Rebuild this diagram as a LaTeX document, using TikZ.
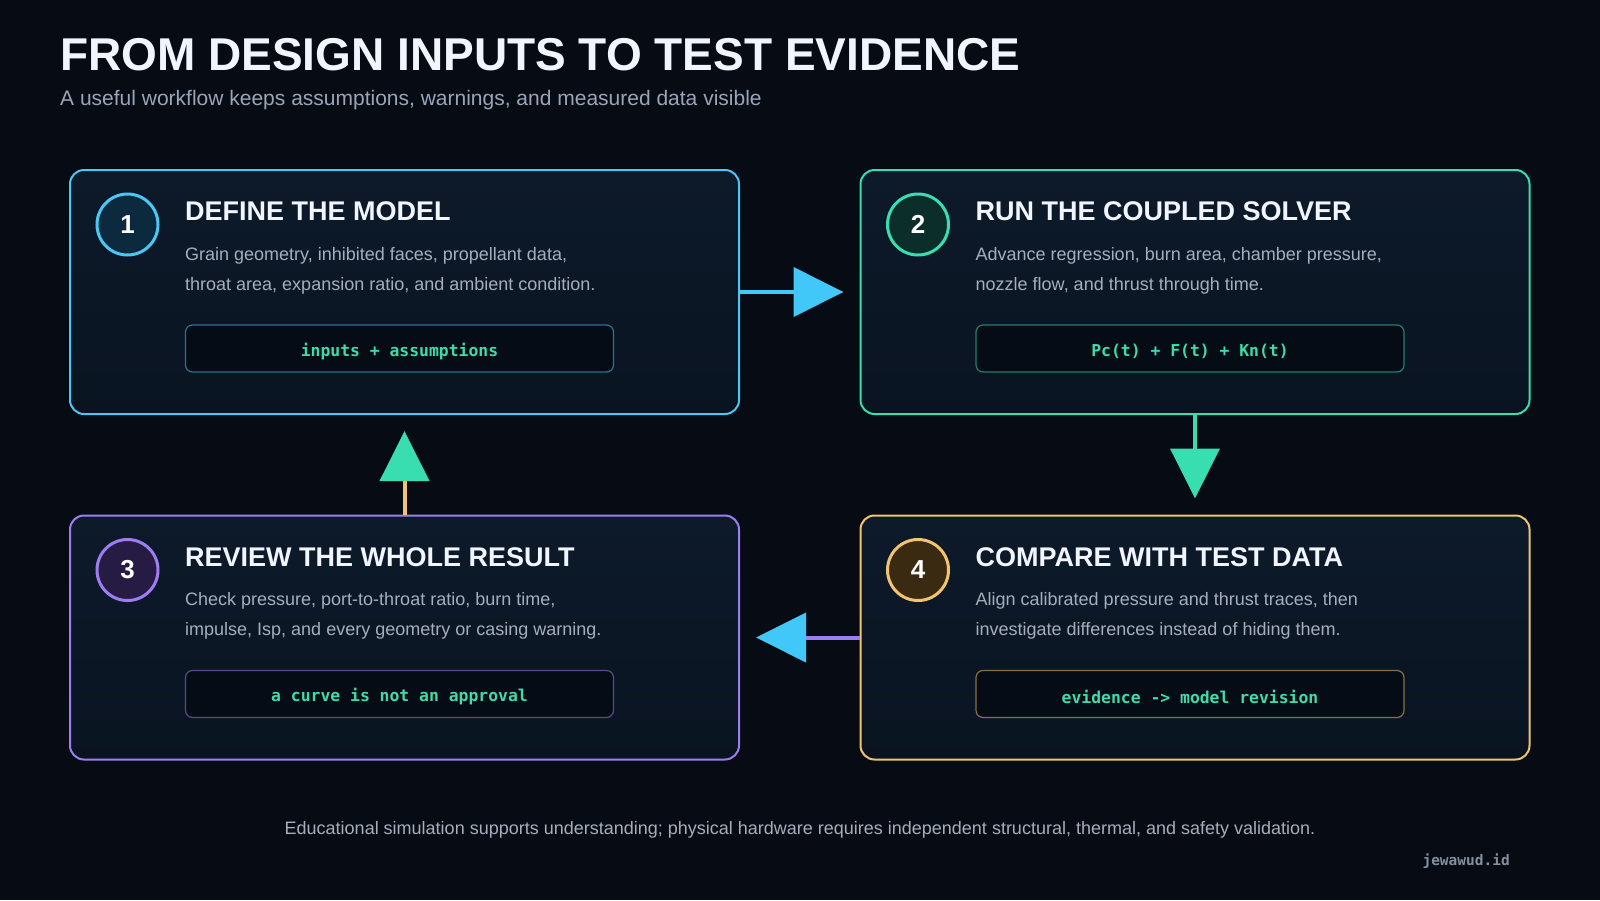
\documentclass[tikz,border=0pt]{standalone}
\usepackage{fontspec}
\setmainfont{Liberation Sans}
\setmonofont{DejaVu Sans Mono}
\usetikzlibrary{positioning,arrows.meta}

\definecolor{bgnavy}{HTML}{060B14}
\definecolor{cardtop}{HTML}{0D1A2A}
\definecolor{cardbot}{HTML}{0A1421}
\definecolor{codebg}{HTML}{050C16}
\definecolor{titlewhite}{HTML}{F0F5FF}
\definecolor{subgrey}{HTML}{9AA6B8}
\definecolor{bodygrey}{HTML}{A6AEBC}
\definecolor{codegreen}{HTML}{3DDCA8}
\definecolor{cblue}{HTML}{4CC6F2}
\definecolor{cgreen}{HTML}{38DDB0}
\definecolor{cpurple}{HTML}{9D7EF2}
\definecolor{corange}{HTML}{F2C46E}
\definecolor{cbluedk}{HTML}{0C2A3E}
\definecolor{cgreendk}{HTML}{0B2E2A}
\definecolor{cpurpledk}{HTML}{261B42}
\definecolor{corangedk}{HTML}{3B2A12}
\definecolor{arrblue}{HTML}{42C8F8}

\begin{document}
\begin{tikzpicture}[x=1pt,y=-1pt,
  card/.style={rounded corners=14pt, line width=2pt, minimum width=669pt, minimum height=244pt, top color=cardtop, bottom color=cardbot, inner sep=0pt},
  num/.style={circle, line width=3pt, minimum size=61pt, inner sep=0pt, text=white, font=\bfseries\fontsize{26}{26}\selectfont},
  codebox/.style={rounded corners=7pt, line width=1.2pt, minimum width=428pt, minimum height=47pt, fill=codebg, inner sep=0pt},
  codetext/.style={yshift=-3pt, text=codegreen, font=\ttfamily\bfseries\fontsize{16.4}{18}\selectfont},
  head/.style={anchor=base west, inner sep=0pt, text=titlewhite, font=\bfseries\fontsize{27}{30}\selectfont},
  body/.style={anchor=base west, inner sep=0pt, align=left, text=bodygrey, font=\fontsize{18}{30}\selectfont},
  flow/.style={line width=4pt}
]
\useasboundingbox[fill=bgnavy] (0,0) rectangle (1600,900);

% title
\node[anchor=base west, inner sep=0pt, text=titlewhite, font=\bfseries\fontsize{46}{50}\selectfont] (title) at (60,70) {FROM DESIGN INPUTS TO TEST EVIDENCE};
\node[anchor=base west, inner sep=0pt, text=subgrey, font=\fontsize{21}{24}\selectfont] (subtitle) at (60,105) {A useful workflow keeps assumptions, warnings, and measured data visible};

% cards
\foreach \n/\px/\py/\c in {1/404.5/292/cblue, 2/1195/292/cgreen, 3/404.5/637.5/cpurple, 4/1195/637.5/corange}{
  \node[card, draw=\c] (card\n) at (\px,\py) {};
  \node[num, draw=\c, fill=\c dk] (num\n) at ([shift={(58.5,55.5)}]card\n.north west) {\n};
  \node[codebox, draw=\c!55!bgnavy] (code\n) at ([shift={(330.5,179.5)}]card\n.north west) {};
}

\node[head] (head1) at ([shift={(116,51.5)}]card1.north west) {DEFINE THE MODEL};
\node[body] (body1) at ([shift={(116,121)}]card1.north west) {Grain geometry, inhibited faces, propellant data,\\throat area, expansion ratio, and ambient condition.};
\node[codetext] at (code1) {inputs + assumptions};

\node[head] (head2) at ([shift={(116,51.5)}]card2.north west) {RUN THE COUPLED SOLVER};
\node[body] (body2) at ([shift={(116,121)}]card2.north west) {Advance regression, burn area, chamber pressure,\\nozzle flow, and thrust through time.};
\node[codetext] at (code2) {Pc(t) + F(t) + Kn(t)};

\node[head] (head3) at ([shift={(116,51.5)}]card3.north west) {REVIEW THE WHOLE RESULT};
\node[body] (body3) at ([shift={(116,121)}]card3.north west) {Check pressure, port-to-throat ratio, burn time,\\impulse, Isp, and every geometry or casing warning.};
\node[codetext] at (code3) {a curve is not an approval};

\node[head] (head4) at ([shift={(116,51.5)}]card4.north west) {COMPARE WITH TEST DATA};
\node[body] (body4) at ([shift={(116,121)}]card4.north west) {Align calibrated pressure and thrust traces, then\\investigate differences instead of hiding them.};
\node[codetext] at (code4) {evidence -> model revision};

% arrows
\draw[flow, arrblue, -{Triangle[length=50pt,width=49pt]}] (card1.east) -- ([xshift=-16pt]card2.west);
\draw[flow, cgreen, -{Triangle[length=50pt,width=49pt]}] (card2.south) -- ([yshift=16pt]card4.north);
\draw[flow, cpurple, -{Triangle[length=50pt,width=49pt,color=arrblue]}] (card4.west) -- ([xshift=16pt]card3.east);
\draw[flow, corange, -{Triangle[length=50pt,width=49pt,color=cgreen]}] (card3.north) -- ([yshift=-16pt]card1.south);

% footer
\node[anchor=base, inner sep=0pt, text=bodygrey, font=\fontsize{18}{20}\selectfont] (note) at (800,834.5) {Educational simulation supports understanding; physical hardware requires independent structural, thermal, and safety validation.};
\node[anchor=base east, inner sep=0pt, text=subgrey!85!bgnavy, font=\ttfamily\bfseries\fontsize{14.5}{16}\selectfont] (mark) at (1510,865) {jewawud.id};
\end{tikzpicture}
\end{document}
